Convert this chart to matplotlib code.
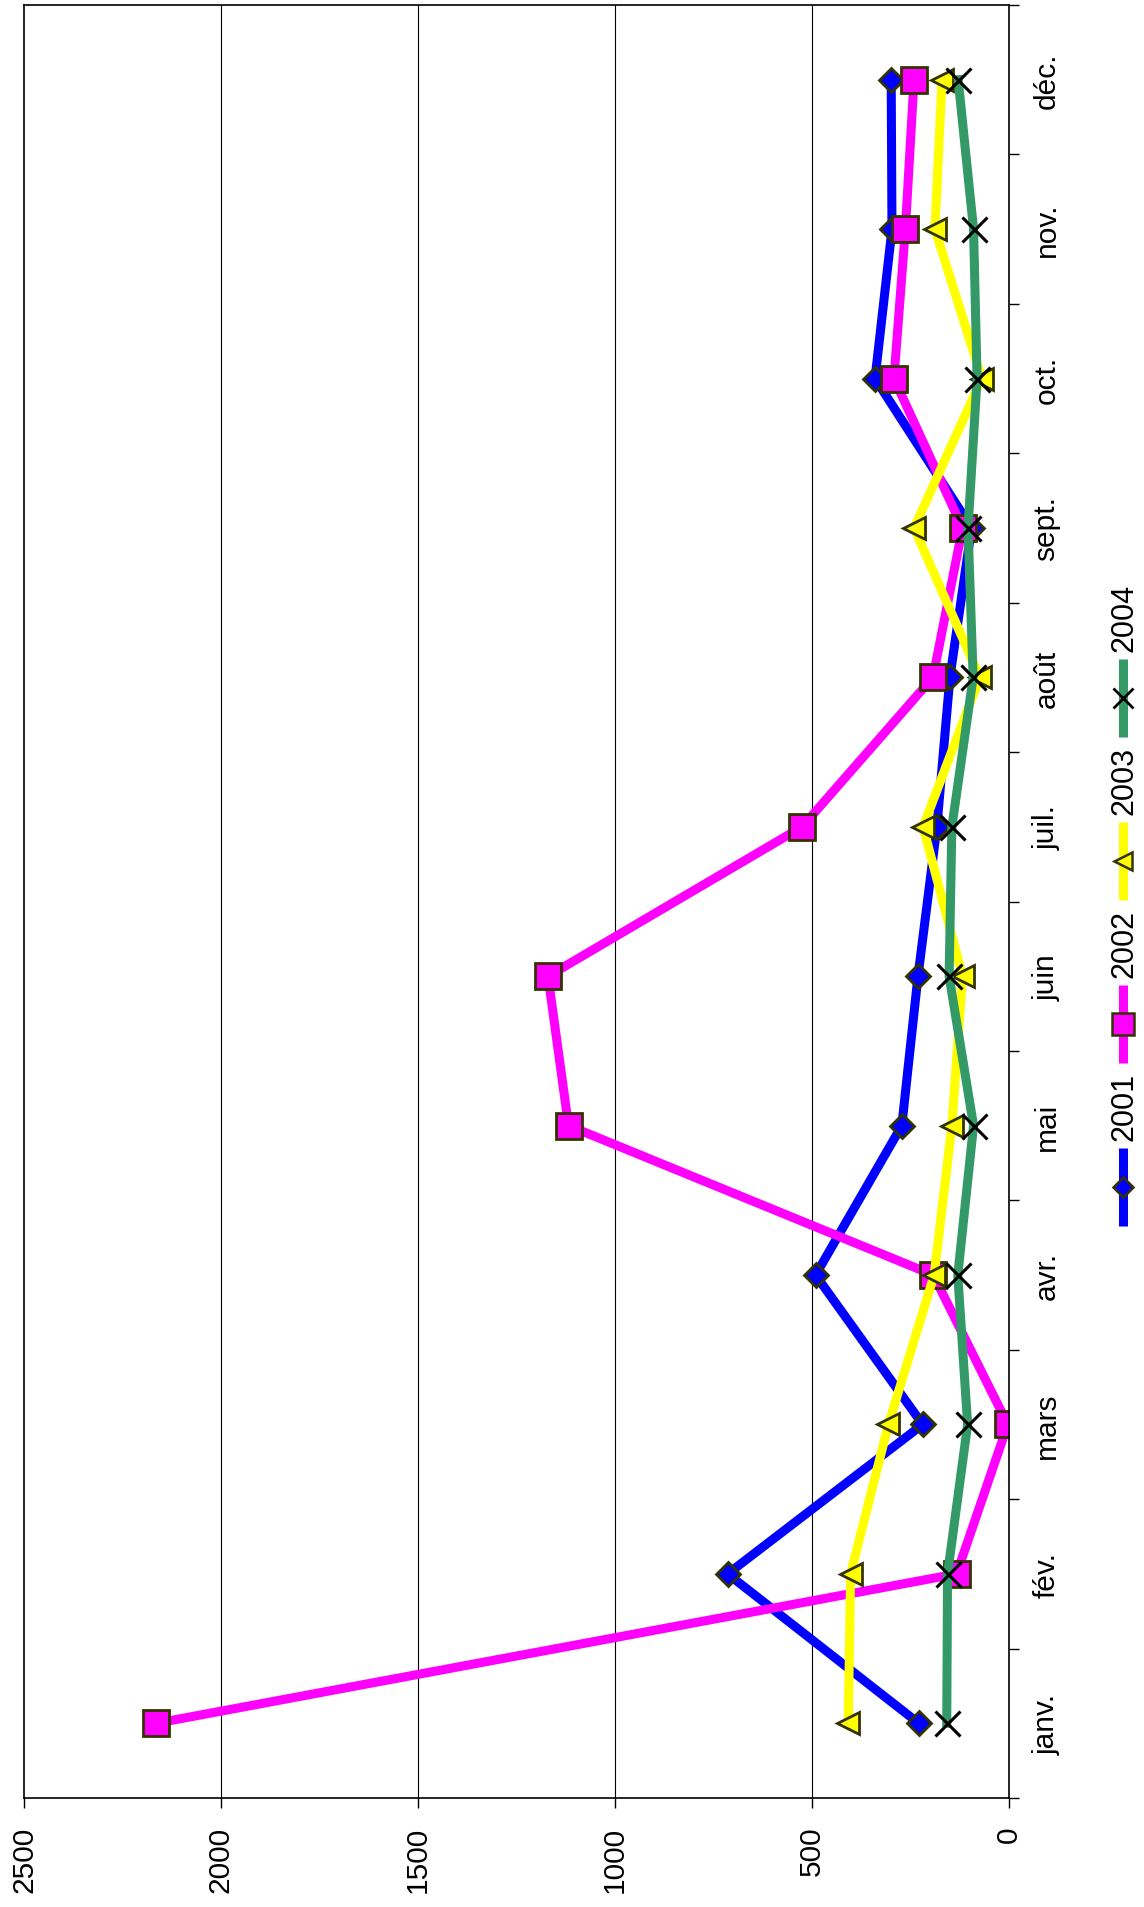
import matplotlib.pyplot as plt
from matplotlib.ticker import FixedLocator

plt.rcParams['font.family'] = ['Liberation Sans', 'DejaVu Sans']

months = ["janv.", "fév.", "mars", "avr.", "mai", "juin",
          "juil.", "août", "sept.", "oct.", "nov.", "déc."]
years = ["2001", "2002", "2003", "2004"]

v2001 = [229, 714, 219, 491, 272, 231, 183, 150, 95, 340, 297, 299]
v2002 = [2165, 133, 3, 192, 1118, 1170, 525, 193, 118, 292, 263, 241]
v2003 = [408, 402, 306, 190, 145, 118, 218, 74, 241, 69, 188, 170]
v2004 = [158, 156, 105, 130, 90, 152, 145, 91, 104, 81, 90, 129]

value_ticks = [0, 500, 1000, 1500, 2000, 2500]

edge = "#333300"
styles = [
    dict(color="#0000ff", marker="D", ms=12, mfc="#0000ff", mec=edge, mew=2),
    dict(color="#ff00ff", marker="s", ms=19, mfc="#ff00ff", mec=edge, mew=2),
    dict(color="#ffff00", marker="<", ms=16, mfc="#ffff00", mec=edge, mew=2),
    dict(color="#339966", marker="x", ms=18, mfc="none", mec="black", mew=2.2),
]
series = [v2001, v2002, v2003, v2004]

W, H = 1144, 1908
fig = plt.figure(figsize=(W / 100, H / 100), dpi=100)
ax = fig.add_axes([24 / W, 1 - 1799 / H, (1009 - 24) / W, (1799 - 6) / H])

pos = list(range(len(months)))
for vals, st in zip(series, styles):
    ax.plot(vals, pos, lw=6.5, solid_joinstyle="round", **st)

ax.set_xlim(2500, 0)
ax.set_ylim(-0.5, len(months) - 0.5)

# value axis (bottom), rotated labels
ax.set_xticks(value_ticks)
ax.set_xticklabels([str(v) for v in value_ticks], rotation=90, fontsize=21.5)
ax.tick_params(axis="x", direction="out", length=7, width=1, pad=13)
for v in value_ticks[1:-1]:
    ax.axvline(v, color="black", lw=0.8, zorder=0)

# category axis on the right, labels between tick marks
ax.yaxis.tick_right()
ax.yaxis.set_major_locator(FixedLocator([i - 0.5 for i in range(len(months) + 1)]))
ax.yaxis.set_major_formatter(plt.NullFormatter())
ax.yaxis.set_minor_locator(FixedLocator(pos))
ax.set_yticklabels(months, minor=True, rotation=90, fontsize=21.5, va="center", ha="left")
ax.tick_params(axis="y", which="major", direction="out", length=7, width=1)
ax.tick_params(axis="y", which="minor", length=0, pad=17)

for s in ax.spines.values():
    s.set_linewidth(1.2)
    s.set_color("black")

# legend, drawn by hand because it is rotated
lg = fig.add_axes([0, 0, 1, 1])
lg.set_xlim(0, W)
lg.set_ylim(H, 0)
lg.axis("off")
lx = 1123
for i, (name, st) in enumerate(zip(years, styles)):
    my = 1188 - i * 163
    small = dict(st)
    small["ms"] = st["ms"] * 0.82
    small["mew"] = st["mew"] * 0.9
    lg.plot([lx, lx], [my + 39, my - 39], lw=6.5, color=st["color"], solid_capstyle="butt")
    lg.plot([lx], [my], ls="none", **{k: v for k, v in small.items() if k != "color"})
    lg.text(lx + 2, my - 47, name, rotation=90, ha="center", va="bottom", fontsize=22)

fig.savefig("out.png", dpi=100)
